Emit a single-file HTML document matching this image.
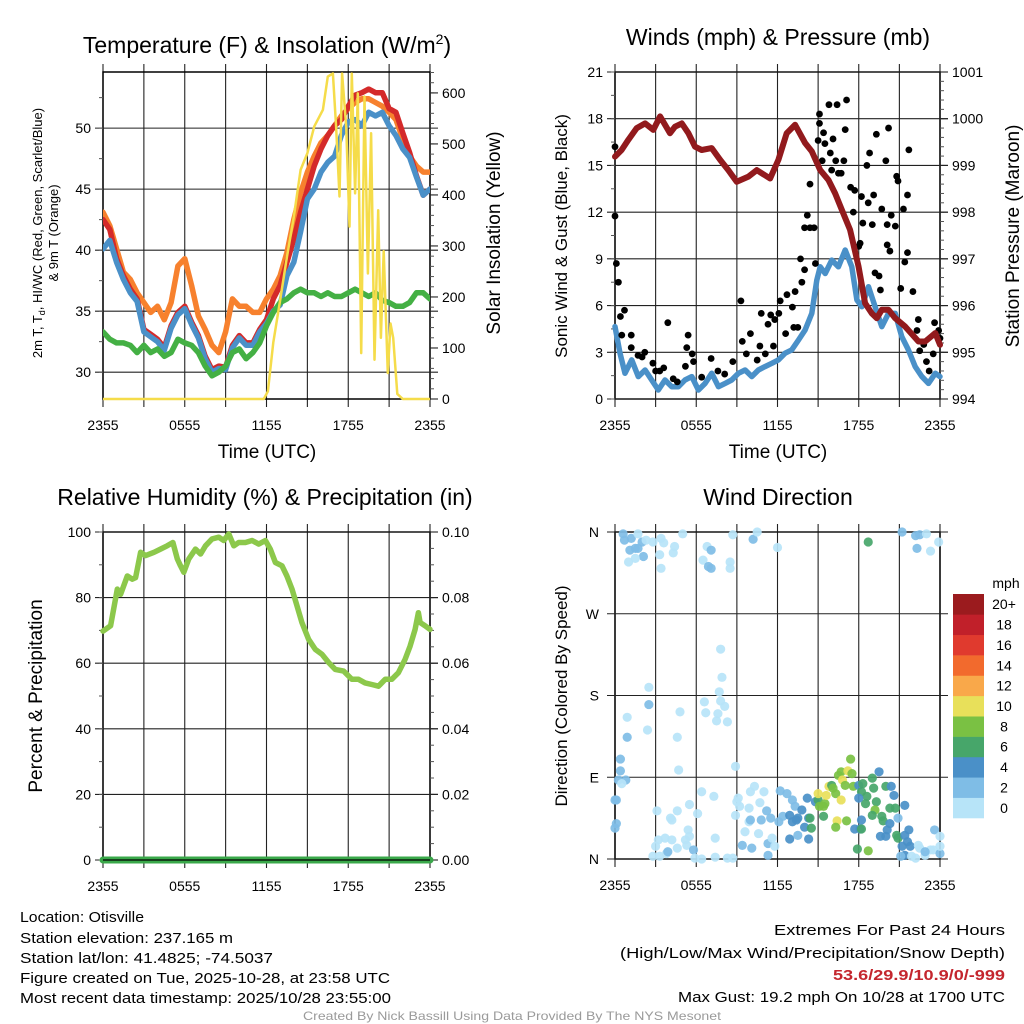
<!DOCTYPE html>
<html><head><meta charset="utf-8"><style>
html,body{margin:0;padding:0;background:#fff;}
svg{display:block;font-family:"Liberation Sans",sans-serif;}
</style></head><body>
<svg id="fig" width="1024" height="1024" viewBox="0 0 1024 1024" xmlns="http://www.w3.org/2000/svg">
<rect x="0" y="0" width="1024" height="1024" fill="#fff"/>
<text x="267" y="53" font-size="23" text-anchor="middle">Temperature (F) &amp; Insolation (W/m<tspan font-size="14" dy="-9">2</tspan><tspan dy="9">)</tspan></text>
<text x="778" y="45" font-size="23" text-anchor="middle">Winds (mph) &amp; Pressure (mb)</text>
<text x="265" y="505" font-size="23" text-anchor="middle">Relative Humidity (%) &amp; Precipitation (in)</text>
<text x="778" y="505" font-size="23" text-anchor="middle">Wind Direction</text>
<text x="267" y="458" font-size="19" text-anchor="middle">Time (UTC)</text>
<text x="778" y="458" font-size="19" text-anchor="middle">Time (UTC)</text>
<text transform="translate(42,233) rotate(-90)" font-size="13" text-anchor="middle">2m T, T<tspan font-size="9" dy="3">d</tspan><tspan dy="-3">, HI/WC (Red, Green, Scarlet/Blue)</tspan></text>
<text transform="translate(58,233) rotate(-90)" font-size="13" text-anchor="middle">&amp; 9m T (Orange)</text>
<text transform="translate(500,233) rotate(-90)" font-size="19" text-anchor="middle">Solar Insolation (Yellow)</text>
<text transform="translate(567,236) rotate(-90)" font-size="17" text-anchor="middle">Sonic Wind &amp; Gust (Blue, Black)</text>
<text transform="translate(1019,236) rotate(-90)" font-size="19" text-anchor="middle">Station Pressure (Maroon)</text>
<text transform="translate(42,696) rotate(-90)" font-size="19" text-anchor="middle">Percent &amp; Precipitation</text>
<text transform="translate(567,696) rotate(-90)" font-size="17" text-anchor="middle">Direction (Colored By Speed)</text>
<g font-size="15">
<text x="20" y="922" textLength="124" lengthAdjust="spacingAndGlyphs">Location: Otisville</text>
<text x="20" y="943" textLength="213" lengthAdjust="spacingAndGlyphs">Station elevation: 237.165 m</text>
<text x="20" y="963" textLength="253" lengthAdjust="spacingAndGlyphs">Station lat/lon: 41.4825; -74.5037</text>
<text x="20" y="983" textLength="370" lengthAdjust="spacingAndGlyphs">Figure created on Tue, 2025-10-28, at 23:58 UTC</text>
<text x="20" y="1003" textLength="371" lengthAdjust="spacingAndGlyphs">Most recent data timestamp: 2025/10/28 23:55:00</text>
</g>
<g font-size="15">
<text x="774" y="935" textLength="231" lengthAdjust="spacingAndGlyphs">Extremes For Past 24 Hours</text>
<text x="620" y="958" textLength="385" lengthAdjust="spacingAndGlyphs">(High/Low/Max Wind/Precipitation/Snow Depth)</text>
<text x="833" y="980" textLength="172" lengthAdjust="spacingAndGlyphs" fill="#c4262e" font-weight="bold">53.6/29.9/10.9/0/-999</text>
<text x="678" y="1002" textLength="327" lengthAdjust="spacingAndGlyphs">Max Gust: 19.2 mph On 10/28 at 1700 UTC</text>
</g>
<text x="303" y="1020" font-size="12" fill="#9a9a9a" textLength="418" lengthAdjust="spacingAndGlyphs">Created By Nick Bassill Using Data Provided By The NYS Mesonet</text>
</svg>
<script>
// ---------- data ----------
const halfHours = [0,0.5,1,1.5,2,2.5,3,3.5,4,4.5,5,5.5,6,6.5,7,7.5,8,8.5,9,9.5,10,10.5,11,11.5,12,12.5,13,13.5,14,14.5,15,15.5,16,16.5,17,17.5,18,18.5,19,19.5,20,20.5,21,21.5,22,22.5,23,23.5,24];
const tempRed = [42.5,41.7,39.3,37.9,36.8,36.0,33.5,33.1,32.7,32.0,33.8,34.9,35.4,34.1,33.0,31.3,30.2,30.5,30.4,32.2,33.0,32.4,32.4,33.5,34.3,36.0,37.1,39.0,40.9,43.1,45.0,46.9,48.3,49.4,50.2,50.7,51.8,52.7,52.9,53.2,52.9,52.9,51.6,51.3,49.6,48.0,46.1,44.5,45.0];
const temp9m = [43.1,42.0,40.1,38.2,37.6,36.5,35.7,34.9,35.4,34.3,35.7,38.7,39.3,37.1,34.6,33.5,32.2,31.6,33.3,36.0,35.4,35.4,34.9,34.9,36.0,36.8,37.9,39.8,42.5,44.7,46.4,47.7,48.8,49.4,50.2,51.0,51.6,52.1,52.4,52.4,52.1,51.8,51.3,50.7,49.1,47.7,46.9,46.4,46.4];
const heatWind = [40.1,40.8,39.0,37.6,36.5,35.8,33.3,32.9,32.5,31.8,33.6,34.7,35.2,33.9,32.8,31.1,30.0,30.3,30.2,32.0,32.8,32.2,32.2,33.3,34.0,35.0,35.5,37.9,39.0,41.5,44.2,45.0,46.4,47.2,47.7,49.4,50.5,50.7,50.2,51.3,51.0,51.3,50.2,49.4,48.3,47.6,46.0,44.5,45.0];
const dewPoint = [33.3,32.7,32.4,32.4,32.2,31.6,32.2,31.6,31.9,31.3,31.6,32.7,32.4,32.2,31.6,30.5,29.7,30.0,30.5,31.6,31.9,31.1,31.6,32.4,33.8,34.9,35.7,36.0,36.5,36.8,36.5,36.5,36.2,36.5,36.2,36.2,36.5,36.8,36.5,36.2,36.5,35.9,35.7,35.4,35.4,35.7,36.5,36.5,36.0];
const solarHours = [0,11.8,12.1,12.5,13,13.5,14,14.5,15,15.5,16.14,16.5,16.87,17.11,17.36,17.55,17.85,18.09,18.26,18.5,18.7,18.95,19.19,19.44,19.68,19.93,20.2,20.4,20.6,20.9,21.1,21.3,21.6,22.0,24];
const solarVals = [0,0,15,111,193,278,357,449,482,534,567,632,638,534,397,638,534,338,638,403,599,90,593,246,521,77,370,120,290,51,148,120,10,0,0];
const presHours = [0,0.49,0.99,1.6,2.22,2.83,3.33,4.06,4.43,4.93,5.42,5.91,6.4,7.14,7.76,8.37,8.99,9.85,10.47,11.45,12.07,12.68,13.3,14.04,14.53,15.15,15.76,16.26,16.75,17.36,17.98,18.47,18.97,19.33,19.7,20.2,20.69,21.43,22.41,22.91,23.65,24];
const presVals = [999.19,999.33,999.55,999.80,999.90,999.76,1000.05,999.69,999.83,999.90,999.69,999.40,999.33,999.37,999.12,998.90,998.65,998.76,998.90,998.72,999.12,999.69,999.87,999.48,999.30,998.90,998.69,998.40,998.05,997.62,996.84,996.05,995.83,995.73,995.91,995.91,995.73,995.55,995.23,995.23,995.41,995.16];
const windHours = [0,0.37,0.74,1.23,1.72,2.22,2.71,3.2,3.69,4.19,4.68,5.17,5.67,6.16,6.65,7.14,7.64,8.13,8.62,9.11,9.61,10.1,10.59,11.08,11.58,12.07,12.56,13.05,13.55,14.04,14.53,14.9,15.15,15.52,16.01,16.5,17.0,17.49,17.86,18.23,18.72,19.21,19.7,20.2,20.69,21.18,21.67,22.17,22.66,23.15,23.65,24];
const windVals = [4.65,2.94,1.65,2.51,1.44,1.86,1.22,0.58,1.22,0.79,0.79,1.22,1.44,0.58,1.0,1.65,0.79,1.0,1.22,1.65,1.86,1.44,1.86,2.08,2.29,2.51,2.94,3.15,3.79,4.43,5.5,7.63,8.49,8.06,8.92,8.49,9.57,8.49,6.36,5.93,7.21,5.93,4.65,5.5,5.5,4.0,3.15,2.08,1.44,1.0,1.65,1.44];
const gustHours = [0,0,0.1,0.25,0.4,0.7,0.5,1.2,1.2,1.7,2.0,2.2,2.8,3.0,3.3,3.6,3.9,4.3,4.6,5.2,5.3,5.4,5.7,5.8,6.4,7.1,7.6,8.1,8.7,9.3,9.4,9.7,10.0,10.5,10.7,10.8,11.1,11.3,11.5,11.7,11.8,12.1,12.2,12.6,12.7,13.1,13.2,13.3,13.5,13.8,13.7,14.0,14.0,14.2,14.4,14.4,14.7,14.8,15.0,15.1,15.1,15.3,15.4,15.5,15.8,15.9,16.0,16.1,16.3,16.4,16.5,16.7,16.9,17.0,17.1,17.4,17.7,17.6,18.0,18.1,18.2,18.3,18.7,18.6,18.8,19.0,19.1,19.2,19.3,19.5,19.6,19.7,20.0,20.1,20.1,20.2,20.3,20.4,20.7,20.8,20.9,21.1,21.3,21.4,21.6,21.6,21.7,22.0,22.3,22.4,22.5,22.8,23.0,23.2,23.5,23.6,23.9,24.0];
const gustVals = [16.2,11.75,8.7,7.5,5.3,5.7,4.1,4.1,3.3,2.8,2.7,3.0,2.3,1.8,1.8,2.0,4.9,1.3,1.1,2.1,3.3,4.1,2.9,2.4,1.4,2.6,1.8,1.6,2.4,6.3,3.7,2.9,4.2,2.5,3.4,5.5,2.9,4.8,5.4,3.4,5.1,5.5,6.3,4.2,6.7,5.9,4.6,6.9,4.6,7.5,9.0,8.3,11.0,11.8,11.0,13.8,11.0,8.7,16.6,17.7,18.3,15.3,17.1,16.4,18.9,15.8,14.7,16.7,15.3,18.9,14.5,14.5,15.3,17.3,19.2,13.6,13.4,12.0,9.8,10.0,13.0,11.3,12.6,15.0,15.8,11.2,13.1,8.1,17.0,7.9,7.0,12.2,15.3,11.2,9.9,17.4,9.5,11.8,11.1,14.3,14.0,7.1,12.2,8.8,9.4,13.1,16.0,6.9,4.4,5.1,3.1,3.5,2.4,1.8,2.9,4.9,4.4,3.9];
const rhHours = [0,0.56,1.05,1.29,1.78,2.15,2.39,2.76,3.13,3.74,4.22,4.71,5.13,5.45,5.69,5.93,6.3,6.79,7.16,7.52,8.01,8.5,8.86,9.23,9.6,9.96,10.45,10.94,11.43,11.92,12.28,12.65,13.14,13.5,13.87,14.24,14.6,15.09,15.58,16.07,16.56,17.05,17.66,18.27,18.75,19.24,19.73,20.22,20.71,21.2,21.68,22.17,22.54,22.91,23.15,23.27,23.64,24];
const rhVals = [69.8,71.4,82.6,81.0,86.6,85.6,86.1,93.8,92.8,93.8,94.8,95.8,96.8,91.8,89.7,87.7,91.8,94.8,93.3,95.8,97.9,98.4,97.4,99.4,95.8,96.8,96.8,97.4,96.3,97.4,94.8,90.7,89.7,86.6,82.6,77.5,72.4,67.3,64.2,62.7,60.2,58.1,57.6,55.1,55.1,54.0,53.5,53.0,55.1,55.1,57.1,61.2,65.2,70.3,75.4,72.4,71.4,70.3];
const precipHours = [0,24];
const precipVals = [0,0];
const dirHours = [0.6,0.7,1.2,1.1,1.5,1.7,2.0,2.1,1.7,2.3,2.8,1.0,1.5,3.4,3.6,3.3,4.3,4.4,5.0,3.4,6.8,7.1,6.5,6.9,7.1,8.5,8.5,8.7,10.2,10.5,12.0,18.7,21.2,22.2,22.5,23.0,22.3,23.3,23.9,
7.8,7.9,7.7,7.8,8.1,6.6,6.7,7.6,7.5,8.3,2.5,2.5,4.8,0.9,2.4,4.6,0.9,4.7,0.4,0.4,0.25,0.8,0.5,8.9,
0.1,0,0.1,0,3.1,4.6,4.1,4.2,5.5,6.4,6.1,7.3,5.4,5.5,5.2,5.3,3.2,3.7,4.2,3.0,2.8,3.3,3.8,3.9,4.6,5.8,5.9,6.4,7.4,7.4,8.3,8.7,9.0,9.1,9.2,8.9,9.6,9.4,10.1,9.9,10.0,9.9,10.7,10.0,10.3,11.0,11.2,11.5,10.6,10.8,11.3,11.3,11.6,11.8,12.2,12.7,13.1,13.3,12.1,12.4,12.9,13.1,13.4,13.5,13.8,14.2,14.3,14.0,14.4,14.5,12.9,13.5,14.3,14.8,15.0,15.1,15.4,15.5,15.6,15.0,15.8,16.0,16.1,16.3,16.5,16.7,17.2,17.4,17.5,16.8,17.0,17.6,16.7,17.1,16.4,16.3,15.4,18.0,18.3,18.2,18.6,18.5,18.0,19.0,19.1,19.5,19.3,19.2,20.0,20.4,20.6,20.3,20.7,19.7,19.8,19.0,18.2,17.7,18.1,18.2,17.9,18.7,20.3,20.1,19.6,20.0,20.8,20.9,20.9,21.4,21.7,21.4,21.6,21.2,21.8,21.4,21.1,21.9,22.5,22.9,23.6,24.0,23.5,23.3,22.9,22.4,22.2,24.0,24.0];
const dirDeg = [358,351,353,340,342,342,349,333,358,351,349,327,331,353,348,335,337,344,358,320,344,340,329,322,320,327,320,357,352,360,343,349,360,356,357,358,342,339,349,
231,200,184,174,168,173,161,160,152,151,189,170,162,156,142,134,134,98,110,97,87,87,83,102,
65,65,39,34,53,53,45,43,60,74,50,69,32,25,21,15,21,23,21,14,3,3,6,8,12,10,1,0,23,2,1,1,63,67,58,48,30,15,12,41,43,56,62,74,80,74,53,45,28,43,17,4,23,14,75,72,65,58,41,47,48,41,43,45,54,67,45,35,45,34,22,26,22,63,65,58,58,61,70,72,80,81,78,72,92,96,97,110,94,87,81,80,65,42,42,35,47,81,83,74,69,61,67,89,78,96,63,54,80,80,70,56,56,47,42,48,43,33,33,33,11,9,39,32,25,25,26,23,45,59,32,26,19,14,14,4,3,3,12,4,32,25,10,10,8,15,1,6,14];
const dirSpeed = [3,3,3,3,3,3,3,3,1,1,1,1,1,1,1,1,1,1,1,1,1,3,1,3,3,1,1,1,3,1,1,7,3,3,3,1,3,1,1,
1,1,1,1,1,1,1,1,1,1,1,3,1,1,1,1,3,1,3,3,3,3,1,1,
3,3,3,3,1,1,1,1,1,1,1,1,1,1,1,1,1,1,1,1,1,1,1,3,1,3,1,1,1,1,1,1,1,1,1,1,1,3,3,1,3,1,1,1,1,1,3,3,1,3,3,3,1,1,3,3,3,3,3,3,5,5,5,5,5,5,5,5,7,7,5,3,5,5,7,9,9,9,11,11,11,7,9,9,9,9,11,9,9,11,9,9,11,9,11,9,7,5,7,7,7,7,5,7,7,5,7,9,7,5,5,7,7,7,7,7,5,5,5,7,7,9,5,5,5,5,7,7,3,5,5,5,5,5,5,5,3,1,1,1,3,1,1,1,3,1,1,3,1];
const speedLabels = ['0','2','4','6','8','10','12','14','16','18','20+'];
const speedColors = ['#b7e4f8','#7fbde6','#4a90c8','#47a66a','#7ac143','#e8e05a','#f9a84a','#f26a2d','#e03a2e','#c1202a','#9b1b1e'];
const timeLabels = ['2355','0555','1155','1755','2355'];
const timeTickHours = [0,6,12,18,24];
const tempTicks = [30,35,40,45,50];
const solarTicks = [0,100,200,300,400,500,600];
const windTicks = [0,3,6,9,12,15,18,21];
const presTicks = [994,995,996,997,998,999,1000,1001];
const rhTicks = [0,20,40,60,80,100];
const precipTicks = ['0.00','0.02','0.04','0.06','0.08','0.10'];
const dirTickDeg = [0,90,180,270,360];
const dirLabels = ['N','E','S','W','N'];

// ---------- helpers ----------
const NS='http://www.w3.org/2000/svg';
const svg=document.getElementById('fig');
function mk(parent,tag,attrs){const e=document.createElementNS(NS,tag);for(const k in attrs)e.setAttribute(k,attrs[k]);parent.appendChild(e);return e;}
function lin(d0,d1,r0,r1){return v=>r0+(v-d0)*(r1-r0)/(d1-d0);}

const panels={
 temp:{x0:103,x1:430,y0:72,y1:399},
 wind:{x0:615,x1:940,y0:72,y1:399},
 rh:{x0:103,x1:430,y0:532,y1:860},
 dir:{x0:615,x1:940,y0:532,y1:859}
};
for(const k in panels){const p=panels[k];p.x=lin(0,24,p.x0,p.x1);}
const tY=lin(27.8,54.6,399,72), sY=lin(0,641,399,72);
const wY=lin(0,21,399,72), pY=lin(994,1001,399,72);
const rY=lin(0,100,860,532), prY=lin(0,0.1,860,532);
const dY=lin(0,360,859,532);

function frame(name,p){
  const g=mk(svg,'g',{});
  
  
  for(let h=0;h<=24;h+=3){
    const x=p.x(h);
    const l=mk(g,'line',{x1:x,x2:x,y1:p.y0-8,y2:p.y1+8,stroke:'#222','stroke-width':1.1});
    
    
  }
  const r=mk(g,'rect',{x:p.x0,y:p.y0,width:p.x1-p.x0,height:p.y1-p.y0,fill:'none',stroke:'#000','stroke-width':1.5});
  
  
  timeTickHours.forEach((h,i)=>{
    const t=mk(svg,'text',{x:p.x(h),y:p.y1+31,'font-size':14,'text-anchor':'middle'});
    t.textContent=timeLabels[i];
    
    
  });
  return g;
}
function hLine(g,p,y){
  const l=mk(g,'line',{x1:p.x0-8,x2:p.x1+8,y1:y,y2:y,stroke:'#222','stroke-width':1.1});
  
  
}
function minorTicks(g,x,dir,ys){
  ys.forEach(y=>{
    const l=mk(g,'line',{x1:x,x2:x+dir*4,y1:y,y2:y,stroke:'#555','stroke-width':1});
    
    
  });
}
function label(x,y,txt,anchor,name){
  const t=mk(svg,'text',{x:x,y:y+5,'font-size':14,'text-anchor':anchor});
  t.textContent=txt;
  
  
}
function path(parent,xs,ys,fx,fy,attrs,name){
  let d='';xs.forEach((h,i)=>{d+=(i?'L':'M')+fx(h).toFixed(1)+','+fy(ys[i]).toFixed(1);});
  const e=mk(parent,'path',Object.assign({d:d,fill:'none','stroke-linejoin':'round','stroke-linecap':'round'},attrs));
  
  
  return e;
}
function range(a,b,s){const r=[];for(let v=a;v<=b+1e-9;v+=s)r.push(v);return r;}

// ---------- panel 1: temperature ----------
(function(){
  const p=panels.temp;const g=frame('temperature',p);
  tempTicks.forEach(v=>{hLine(g,p,tY(v));label(p.x0-12,tY(v),String(v),'end','temp-y-tick-label');});
  minorTicks(g,p.x0,-1,range(27.5,55,2.5).filter(v=>v>=27.8&&v<=54.6).map(tY));
  minorTicks(g,p.x1,1,range(0,640,20).map(sY));
  solarTicks.forEach(v=>{
    const l=mk(g,'line',{x1:p.x1,x2:p.x1+8,y1:sY(v),y2:sY(v),stroke:'#222','stroke-width':1.1});
    
    
    label(p.x1+12,sY(v),String(v),'start','solar-y-tick-label');
  });
  const cp=mk(svg,'clipPath',{id:'c1'});mk(cp,'rect',{x:p.x0,y:p.y0-2,width:p.x1-p.x0,height:p.y1-p.y0+4});
  const s=mk(svg,'g',{'clip-path':'url(#c1)'});
  
  
  path(s,halfHours,temp9m,p.x,tY,{stroke:'#f7812e','stroke-width':5.5},'line-9m-temperature');
  path(s,halfHours,tempRed,p.x,tY,{stroke:'#d42a2a','stroke-width':5.5},'line-2m-temperature');
  path(s,halfHours,heatWind,p.x,tY,{stroke:'#4a90c8','stroke-width':5.5},'line-heat-index-wind-chill');
  path(s,halfHours,dewPoint,p.x,tY,{stroke:'#44b044','stroke-width':5.5},'line-dew-point');
  path(s,solarHours,solarVals,p.x,sY,{stroke:'#f5dc4a','stroke-width':2.5},'line-solar-insolation');
})();

// ---------- panel 2: winds ----------
(function(){
  const p=panels.wind;const g=frame('winds',p);
  windTicks.forEach(v=>{hLine(g,p,wY(v));label(p.x0-12,wY(v),String(v),'end','wind-y-tick-label');});
  minorTicks(g,p.x0,-1,range(0,21,1.5).map(wY));
  minorTicks(g,p.x1,1,range(994,1001,0.2).map(pY));
  presTicks.forEach(v=>{
    const l=mk(g,'line',{x1:p.x1,x2:p.x1+8,y1:pY(v),y2:pY(v),stroke:'#222','stroke-width':1.1});
    
    
    label(p.x1+12,pY(v),String(v),'start','pressure-y-tick-label');
  });
  const cp=mk(svg,'clipPath',{id:'c2'});mk(cp,'rect',{x:p.x0-4,y:p.y0,width:p.x1-p.x0+8,height:p.y1-p.y0});
  const s=mk(svg,'g',{'clip-path':'url(#c2)'});
  
  
  path(s,windHours,windVals,p.x,wY,{stroke:'#4a90c8','stroke-width':5.5},'line-sonic-wind');
  gustHours.forEach((h,i)=>{
    const c=mk(s,'circle',{cx:p.x(h),cy:wY(gustVals[i]),r:3.4,fill:'#000'});
    
    
  });
  path(s,presHours,presVals,p.x,pY,{stroke:'#921a1d','stroke-width':6},'line-station-pressure');
})();

// ---------- panel 3: humidity ----------
(function(){
  const p=panels.rh;const g=frame('humidity',p);
  rhTicks.forEach(v=>{hLine(g,p,rY(v));label(p.x0-12,rY(v),String(v),'end','humidity-y-tick-label');});
  minorTicks(g,p.x0,-1,range(0,100,10).map(rY));
  minorTicks(g,p.x1,1,range(0,0.1,0.005).map(prY));
  precipTicks.forEach(v=>{
    const l=mk(g,'line',{x1:p.x1,x2:p.x1+8,y1:prY(+v),y2:prY(+v),stroke:'#222','stroke-width':1.1});
    
    
    label(p.x1+12,prY(+v),v,'start','precip-y-tick-label');
  });
  path(svg,rhHours,rhVals,p.x,rY,{stroke:'#8cc84b','stroke-width':5.5},'line-relative-humidity');
  path(svg,precipHours,precipVals,p.x,prY,{stroke:'#3aa84a','stroke-width':7},'line-precipitation');
  const b=mk(svg,'line',{x1:p.x0,x2:p.x1,y1:p.y1,y2:p.y1,stroke:'#000','stroke-width':1.2});
  
  
})();

// ---------- panel 4: wind direction ----------
(function(){
  const p=panels.dir;const g=frame('wind-direction',p);
  dirTickDeg.forEach((v,i)=>{hLine(g,p,dY(v));label(p.x0-16,dY(v),dirLabels[i],'end','direction-y-tick-label');});
  const s=mk(svg,'g',{});
  
  
  dirHours.forEach((h,i)=>{
    const bin=Math.min(10,Math.floor(dirSpeed[i]/2));
    const c=mk(s,'circle',{cx:p.x(h),cy:dY(dirDeg[i]),r:4.6,fill:speedColors[bin],'fill-opacity':0.92});
    
    
  });
  const cb=mk(svg,'g',{});
  
  
  const cbTop=594, cbH=224/11;
  speedLabels.forEach((lab,i)=>{
    const y=cbTop+(10-i)*cbH;
    const r=mk(cb,'rect',{x:953,y:y,width:31,height:cbH+0.3,fill:speedColors[i]});
    
    
    const t=mk(cb,'text',{x:1004,y:y+cbH/2+5,'font-size':14,'text-anchor':'middle'});
    t.textContent=lab;
    
    
  });
  const u=mk(cb,'text',{x:1006,y:588,'font-size':14,'text-anchor':'middle'});
  u.textContent='mph';
  
  
})();
</script>
</body></html>
